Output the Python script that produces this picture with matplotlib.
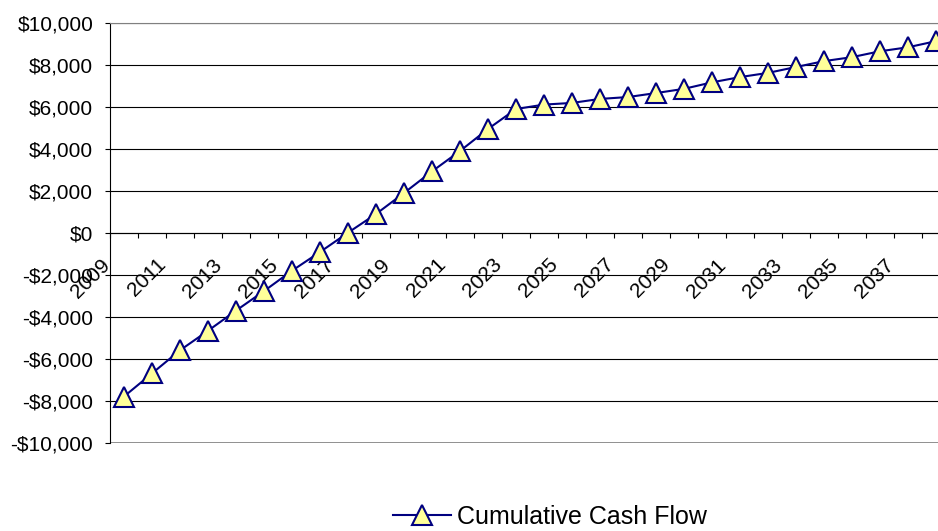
import numpy as np
import matplotlib.pyplot as plt
from matplotlib.ticker import FuncFormatter
import matplotlib.transforms as mtransforms

plt.rcParams["font.family"] = ["Liberation Sans", "DejaVu Sans"]

# Years and cumulative cash flow values
years = list(range(2009, 2039))
cash_flow = [-7800, -6700, -5600, -4670, -3710, -2780, -1810, -920, 0, 890,
             1890, 2920, 3890, 4940, 5890, 6100, 6180, 6370, 6460, 6650,
             6850, 7160, 7410, 7610, 7890, 8170, 8360, 8640, 8830, 9120]
y_ticks = list(range(-10000, 10001, 2000))

navy = "#000080"
fill = "#FFFF99"

fig = plt.figure(figsize=(9.38, 5.31), dpi=100)
# plot area runs a bit past the right edge, like the cropped original
ax = fig.add_axes([110 / 938, 1 - 442.7 / 531, 840 / 938, 420 / 531])

x = np.arange(len(years))
line, = ax.plot(x, cash_flow, color=navy, linewidth=1.5, marker="^",
                markersize=14, markerfacecolor=fill, markeredgecolor=navy,
                markeredgewidth=1.5, label="Cumulative Cash Flow", zorder=5,
                clip_on=False)

ax.set_xlim(-0.5, len(years) - 0.5)
ax.set_ylim(-10000, 10000)

# y axis, dollar format
ax.set_yticks(y_ticks)
ax.yaxis.set_major_formatter(FuncFormatter(
    lambda v, p: ("-$" if v < 0 else "$") + f"{abs(int(v)):,}"))
ax.tick_params(axis="y", direction="out", length=3.6, width=0.8,
               pad=8.5, labelsize=15)
ax.yaxis.grid(True, color="black", linewidth=0.8)
ax.set_axisbelow(True)

# x axis crosses at zero, ticks between categories, label every other year
ax.spines["bottom"].set_position(("data", 0))
ax.spines["bottom"].set_linewidth(0.8)
ax.spines["left"].set_linewidth(0.8)
ax.spines["top"].set_color("#808080")
ax.spines["right"].set_color("#808080")
ax.axhline(ax.get_ylim()[0], color="#808080", linewidth=1.2, zorder=1)

ax.set_xticks(x - 0.5)
ax.set_xticklabels([str(yr) if i % 2 == 0 else "" for i, yr in enumerate(years)],
                   rotation=45, ha="right", va="top")
ax.tick_params(axis="x", direction="out", length=3.6, width=0.8,
               pad=12.5, labelsize=15)
offset = mtransforms.ScaledTranslation(4 / 100, 0, fig.dpi_scale_trans)
for lbl in ax.get_xticklabels():
    lbl.set_transform(lbl.get_transform() + offset)

fig.legend(handles=[line], loc="center left",
           bbox_to_anchor=(393 / 938, 1 - 517 / 531), frameon=False,
           fontsize=18, handlelength=2.3, handletextpad=0.25,
           borderpad=0, borderaxespad=0)

fig.savefig("out.png", dpi=100)
